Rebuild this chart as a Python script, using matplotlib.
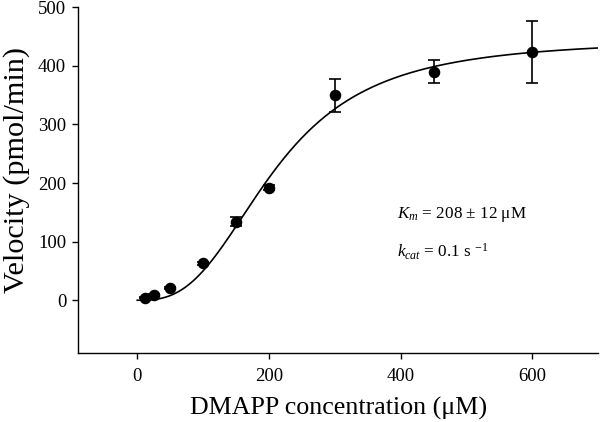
import numpy as np
import matplotlib
matplotlib.use("Agg")
import matplotlib.pyplot as plt

plt.rcParams['font.family'] = ['Liberation Serif', 'DejaVu Serif']
plt.rcParams['mathtext.fontset'] = 'custom'
plt.rcParams['mathtext.rm'] = 'Liberation Serif'
plt.rcParams['mathtext.it'] = 'Liberation Serif:italic'

# Data
conc = [12.5, 25, 50, 100, 150, 200, 300, 450, 600]
velocity = [4, 9, 21, 63, 134, 192, 350, 390, 423]
err = [1, 1, 2, 3, 8, 4, 28, 20, 53]

# Fitted Hill curve parameters
vmax = 445
k_half = 209
hill_n = 2.8

x_ticks = [0, 200, 400, 600]
y_ticks = [0, 100, 200, 300, 400, 500]

fig = plt.figure(figsize=(6.0, 4.22), dpi=100)
ax = fig.add_axes([0.13, 0.1635, 0.867, 0.8195])

xc = np.linspace(0, 700, 400)
yc = vmax * xc**hill_n / (k_half**hill_n + xc**hill_n)
ax.plot(xc, yc, color='black', lw=1.2)

ax.errorbar(conc, velocity, yerr=err, fmt='o', color='black', ms=7.3,
            capsize=4.5, elinewidth=1.2, capthick=1.2)

ax.set_xlim(-90, 700)
ax.set_ylim(-90, 500)
ax.set_xticks(x_ticks)
ax.set_yticks(y_ticks)
ax.tick_params(direction='out', length=4.5, width=1, labelsize=13.5)
ax.tick_params(axis='x', pad=6)
ax.tick_params(axis='y', pad=4)
ax.spines['top'].set_visible(False)
ax.spines['right'].set_visible(False)
for s in ['left', 'bottom']:
    ax.spines[s].set_linewidth(1.0)

ax.set_xlabel('DMAPP concentration (\u03bcM)', fontsize=18.7, labelpad=8.6)
ax.set_ylabel('Velocity (pmol/min)', fontsize=21.8)
ax.yaxis.set_label_coords(-0.092, 0.529)

ax.text(395, 146, r'$K_m$ = 208 $\pm$ 12 ' + '\u03bcM', fontsize=12.3, va='center')
ax.text(395, 82, r'$k_{cat}$ = 0.1 s $^{-1}$', fontsize=12.3, va='center')

fig.savefig('out.png', dpi=100)
